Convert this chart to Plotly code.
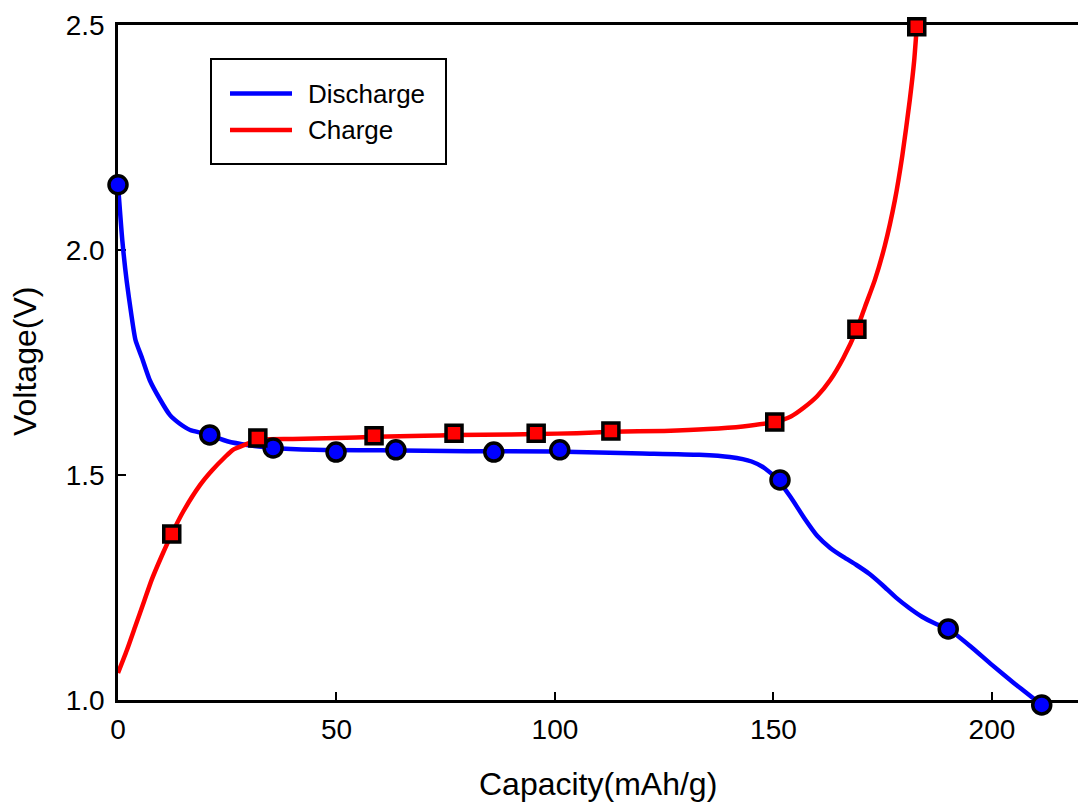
import plotly.graph_objects as go

# ---- data ----
# Discharge curve (smooth line)
dis_curve_x = [0, 1, 2, 3, 4, 5.5, 7.3, 9.5, 11.9, 14, 16.5, 19, 21, 25, 30, 35.5, 45, 60, 80, 100, 110, 120, 133, 140, 145, 148, 151,
               154, 157, 160, 163, 166, 169, 172, 175, 178, 181, 184, 187, 190, 195, 200, 205, 211.4]
dis_curve_y = [2.145, 2.02, 1.93, 1.86, 1.80, 1.76, 1.71, 1.67, 1.633, 1.615, 1.60, 1.594, 1.589, 1.575, 1.566, 1.560, 1.556, 1.555, 1.553, 1.552, 1.550, 1.548, 1.545, 1.540, 1.530, 1.515, 1.489,
               1.45, 1.405, 1.365, 1.338, 1.318, 1.300, 1.280, 1.255, 1.228, 1.205, 1.185, 1.170, 1.158, 1.120, 1.078, 1.038, 0.989]
# Discharge markers
dis_pts_x = [0, 21, 35.5, 49.9, 63.6, 86.0, 101.1, 151.5, 190, 211.4]
dis_pts_y = [2.145, 1.589, 1.560, 1.551, 1.556, 1.551, 1.556, 1.489, 1.158, 0.989]

# Charge curve (smooth line)
chg_curve_x = [0, 2, 4, 6, 7.7, 10, 12.3, 15, 18.8, 21.5, 24.5, 26.3, 29, 32, 40, 50, 59, 70, 77, 90, 96, 105, 113, 125, 135, 143, 150.3,
               154, 157, 160, 163, 166, 169.1, 171, 173.2, 175.5, 177.8, 179.5, 181.2, 182.2, 182.8]
chg_curve_y = [1.06, 1.11, 1.165, 1.22, 1.267, 1.32, 1.369, 1.42, 1.478, 1.51, 1.540, 1.556, 1.567, 1.578, 1.580, 1.582, 1.585, 1.587, 1.589, 1.590, 1.591, 1.593, 1.596, 1.598, 1.602, 1.608, 1.618,
               1.630, 1.650, 1.675, 1.711, 1.760, 1.824, 1.875, 1.933, 2.01, 2.111, 2.21, 2.333, 2.42, 2.496]
# Charge markers
chg_pts_x = [12.3, 32.0, 58.6, 76.9, 95.7, 112.8, 150.3, 169.1, 182.8]
chg_pts_y = [1.369, 1.582, 1.587, 1.593, 1.593, 1.598, 1.618, 1.824, 2.496]

series_names = ["Discharge", "Charge"]
x_ticks = [0, 50, 100, 150, 200]
y_ticks = [1.0, 1.5, 2.0, 2.5]
y_tick_text = ["1.0", "1.5", "2.0", "2.5"]
x_title = "Capacity(mAh/g)"
y_title = "Voltage(V)"

BLUE = "#0000ff"
RED = "#ff0000"
FONT = "Liberation Sans, Arial, sans-serif"

# geometry (pixels)
W, H = 1078, 807
ML, MR, MT, MB = 118, 0, 25, 60
AXIS_BOTTOM_PX = 700
plot_h = H - MT - MB
y_dom0 = (H - MB - AXIS_BOTTOM_PX) / plot_h
Y_MIN, Y_MAX = 1.0, 2.5
px_per_v = (AXIS_BOTTOM_PX - MT) / (Y_MAX - Y_MIN)
y2_min = Y_MAX - plot_h / px_per_v   # same scale, extended below so marks under 1.0 still show

fig = go.Figure()
# all marks on the helper axis y2 (same scale as y, longer range)
fig.add_trace(go.Scatter(x=dis_curve_x, y=dis_curve_y, mode="lines", line=dict(color=BLUE, width=4.5, shape="spline", smoothing=0.6),
                         cliponaxis=False, showlegend=False, yaxis="y2"))
fig.add_trace(go.Scatter(x=chg_curve_x, y=chg_curve_y, mode="lines", line=dict(color=RED, width=4.5, shape="spline", smoothing=0.6),
                         cliponaxis=False, showlegend=False, yaxis="y2"))
fig.add_trace(go.Scatter(x=dis_pts_x, y=dis_pts_y, mode="markers",
                         marker=dict(symbol="circle", size=18, color=BLUE, line=dict(color="black", width=3.5)),
                         cliponaxis=False, showlegend=False, yaxis="y2"))
fig.add_trace(go.Scatter(x=chg_pts_x, y=chg_pts_y, mode="markers",
                         marker=dict(symbol="square", size=16, color=RED, line=dict(color="black", width=3.5)),
                         cliponaxis=False, showlegend=False, yaxis="y2"))
# invisible trace to keep the visible x/y subplot
fig.add_trace(go.Scatter(x=[None], y=[None], mode="markers", showlegend=False, hoverinfo="skip"))

# manual legend box (paper coords relative to y2 domain [0,1])
def py(px):
    return (H - MB - px) / plot_h

def pxx(px):
    return (px - ML) / (W - ML - MR)

fig.add_shape(type="rect", xref="paper", yref="paper", x0=pxx(211), x1=pxx(446), y0=py(164), y1=py(59),
              line=dict(color="black", width=2), fillcolor="white", layer="above")
legend_px = [93.5, 130]
for name, col, lpx in zip(series_names, [BLUE, RED], legend_px):
    fig.add_shape(type="line", xref="paper", yref="paper", x0=pxx(230), x1=pxx(292), y0=py(lpx), y1=py(lpx),
                  line=dict(color=col, width=4.5), layer="above")
    fig.add_annotation(xref="paper", yref="paper", x=pxx(306), y=py(lpx), text=name, showarrow=False,
                       xanchor="left", yanchor="middle", font=dict(family=FONT, size=26, color="black"))

# axis titles
fig.add_annotation(xref="paper", yref="paper", x=pxx(598), y=py(784), text=x_title, showarrow=False,
                   xanchor="center", yanchor="middle", font=dict(family=FONT, size=32, color="black"))
fig.add_annotation(xref="paper", yref="paper", x=pxx(25), y=py(362), text=y_title, showarrow=False, textangle=-90,
                   xanchor="center", yanchor="middle", font=dict(family=FONT, size=32, color="black"))

fig.update_layout(
    width=W, height=H,
    margin=dict(l=ML, r=MR, t=MT, b=MB),
    paper_bgcolor="white", plot_bgcolor="rgba(0,0,0,0)",
    font=dict(family=FONT, color="black"),
    showlegend=False,
    xaxis=dict(range=[0, 219.7], anchor="y", showgrid=False, zeroline=False, showline=True, linecolor="black", linewidth=2.5,
               mirror=True, ticks="inside", ticklen=8, tickwidth=2, tickcolor="black",
               tickvals=x_ticks, ticktext=[str(v) for v in x_ticks], tickfont=dict(size=28), ticklabelstandoff=3),
    yaxis=dict(range=[Y_MIN, Y_MAX], domain=[y_dom0, 1], anchor="x", showgrid=False, zeroline=False, showline=True,
               linecolor="black", linewidth=2.5, mirror=False, ticks="inside", ticklen=8, tickwidth=2, tickcolor="black",
               tickvals=y_ticks, ticktext=y_tick_text, tickfont=dict(size=28), ticklabelstandoff=5),
    yaxis2=dict(range=[y2_min, Y_MAX], domain=[0, 1], anchor="x", visible=False, showgrid=False, zeroline=False),
)

fig.write_html("out.html")
